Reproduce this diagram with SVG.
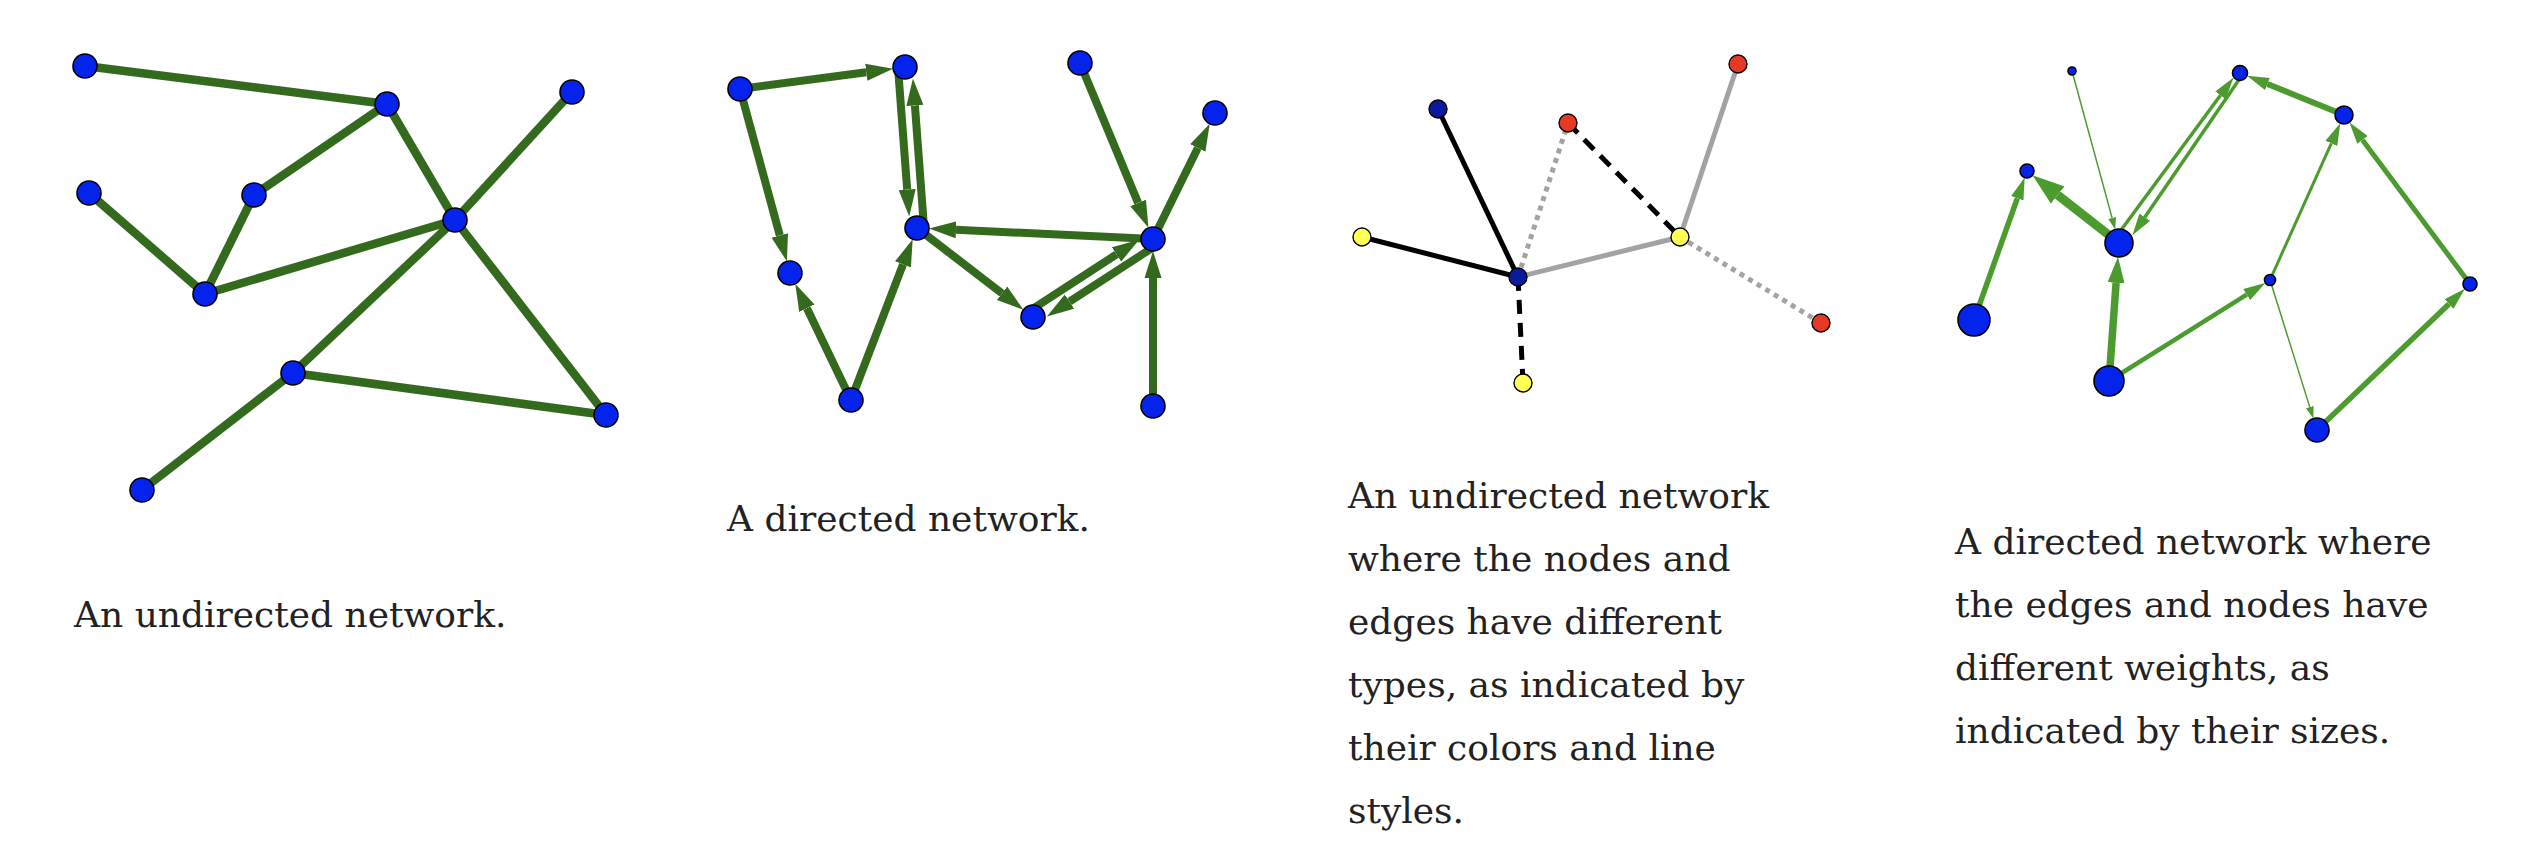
<svg xmlns="http://www.w3.org/2000/svg" width="2522" height="846" viewBox="0 0 2522 846">
<style>
.n{fill:#0424ee;stroke:#000;stroke-width:1.6}
.e1{stroke:#346a1e;stroke-width:8.5;fill:none}
.e2{stroke:#346a1e;stroke-width:8;fill:none;marker-end:url(#m2)}
.k{stroke:#000;stroke-width:5;fill:none}
.kd{stroke:#000;stroke-width:5;fill:none;stroke-dasharray:14 9}
.g{stroke:#a3a3a3;stroke-width:5;fill:none}
.gd{stroke:#a3a3a3;stroke-width:5;fill:none;stroke-dasharray:5 5}
.nb{fill:#0a1a9c;stroke:#000;stroke-width:1.4}
.nr{fill:#e63a24;stroke:#000;stroke-width:1.4}
.ny{fill:#ffff55;stroke:#000;stroke-width:1.4}
.e4{stroke:#4b9b2e;fill:none}
.cap{font-family:"DejaVu Serif","Liberation Serif",serif;font-size:36px;fill:#222}
</style>
<defs>
<marker id="m2" markerUnits="userSpaceOnUse" markerWidth="27" markerHeight="18" refX="0" refY="9" orient="auto" viewBox="0 0 27 18"><path d="M0,0.5 L27,9 L0,17.5 Z" fill="#346a1e"/></marker>
<marker id="m4s" markerUnits="userSpaceOnUse" markerWidth="12" markerHeight="8" refX="0" refY="4" orient="auto" viewBox="0 0 12 8"><path d="M0,0 L12,4 L0,8 Z" fill="#4b9b2e"/></marker>
<marker id="m4m" markerUnits="userSpaceOnUse" markerWidth="22" markerHeight="13" refX="0" refY="6.5" orient="auto" viewBox="0 0 22 13"><path d="M0,0 L22,6.5 L0,13 Z" fill="#4b9b2e"/></marker>
<marker id="m4l" markerUnits="userSpaceOnUse" markerWidth="26" markerHeight="17" refX="0" refY="8.5" orient="auto" viewBox="0 0 26 17"><path d="M0,0 L26,8.5 L0,17 Z" fill="#4b9b2e"/></marker>
<marker id="m4x" markerUnits="userSpaceOnUse" markerWidth="32" markerHeight="22" refX="0" refY="11" orient="auto" viewBox="0 0 32 22"><path d="M0,0 L32,11 L0,22 Z" fill="#4b9b2e"/></marker>
</defs>
<rect width="2522" height="846" fill="#fff"/>

<!-- Panel 1: undirected -->
<g id="p1-edges">
<line class="e1" x1="85" y1="66" x2="387" y2="104"/>
<line class="e1" x1="387" y1="104" x2="254" y2="195"/>
<line class="e1" x1="387" y1="104" x2="455" y2="220"/>
<line class="e1" x1="572" y1="92" x2="455" y2="220"/>
<line class="e1" x1="89" y1="193" x2="205" y2="294"/>
<line class="e1" x1="254" y1="195" x2="205" y2="294"/>
<line class="e1" x1="205" y1="294" x2="455" y2="220"/>
<line class="e1" x1="455" y1="220" x2="293" y2="373"/>
<line class="e1" x1="455" y1="220" x2="606" y2="415"/>
<line class="e1" x1="293" y1="373" x2="606" y2="415"/>
<line class="e1" x1="293" y1="373" x2="142" y2="490"/>
</g>
<g id="p1-n1"><circle class="n" cx="85" cy="66" r="12"/></g>
<g id="p1-n2"><circle class="n" cx="387" cy="104" r="12"/></g>
<g id="p1-n3"><circle class="n" cx="572" cy="92" r="12"/></g>
<g id="p1-n4"><circle class="n" cx="89" cy="193" r="12"/></g>
<g id="p1-n5"><circle class="n" cx="254" cy="195" r="12"/></g>
<g id="p1-n6"><circle class="n" cx="455" cy="220" r="12"/></g>
<g id="p1-n7"><circle class="n" cx="205" cy="294" r="12"/></g>
<g id="p1-n8"><circle class="n" cx="293" cy="373" r="12"/></g>
<g id="p1-n9"><circle class="n" cx="606" cy="415" r="12"/></g>
<g id="p1-n10"><circle class="n" cx="142" cy="490" r="12"/></g>

<!-- Panel 2: directed -->
<g id="p2-edges">
<line class="e2" x1="740" y1="89" x2="866.3" y2="72.2"/>
<line class="e2" x1="740" y1="89" x2="779.8" y2="235.4"/>
<line class="e2" x1="898" y1="67.5" x2="907.2" y2="189.6"/>
<line class="e2" x1="924" y1="227.5" x2="914.9" y2="105.4"/>
<line class="e2" x1="851" y1="400" x2="806.9" y2="308.2"/>
<line class="e2" x1="851" y1="400" x2="903" y2="264.4"/>
<line class="e2" x1="1153" y1="239" x2="956" y2="229.8"/>
<line class="e2" x1="917" y1="228" x2="1002" y2="293.3"/>
<line class="e2" x1="1029.2" y1="311.1" x2="1116.5" y2="254.4"/>
<line class="e2" x1="1156.8" y1="244.9" x2="1069.5" y2="301.7"/>
<line class="e2" x1="1080" y1="63" x2="1138.1" y2="202.9"/>
<line class="e2" x1="1153" y1="239" x2="1197.8" y2="148"/>
<line class="e2" x1="1153" y1="406" x2="1153" y2="278"/>
</g>
<g id="p2-n1"><circle class="n" cx="740" cy="89" r="12"/></g>
<g id="p2-n2"><circle class="n" cx="905" cy="67" r="12"/></g>
<g id="p2-n3"><circle class="n" cx="1080" cy="63" r="12"/></g>
<g id="p2-n4"><circle class="n" cx="1215" cy="113" r="12"/></g>
<g id="p2-n5"><circle class="n" cx="917" cy="228" r="12"/></g>
<g id="p2-n6"><circle class="n" cx="790" cy="273" r="12"/></g>
<g id="p2-n7"><circle class="n" cx="1153" cy="239" r="12"/></g>
<g id="p2-n8"><circle class="n" cx="1033" cy="317" r="12"/></g>
<g id="p2-n9"><circle class="n" cx="851" cy="400" r="12"/></g>
<g id="p2-n10"><circle class="n" cx="1153" cy="406" r="12"/></g>

<!-- Panel 3: typed -->
<g id="p3-edges">
<line class="k" x1="1438" y1="109" x2="1518" y2="277"/>
<line class="k" x1="1362" y1="237" x2="1518" y2="277"/>
<line class="kd" x1="1518" y1="277" x2="1523" y2="383"/>
<line class="kd" x1="1568" y1="123" x2="1680" y2="237"/>
<line class="gd" x1="1518" y1="277" x2="1568" y2="123"/>
<line class="g" x1="1518" y1="277" x2="1680" y2="237"/>
<line class="g" x1="1680" y1="237" x2="1738" y2="64"/>
<line class="gd" x1="1680" y1="237" x2="1821" y2="323"/>
</g>
<g id="p3-n1"><circle class="nb" cx="1438" cy="109" r="9"/></g>
<g id="p3-n2"><circle class="nr" cx="1568" cy="123" r="9"/></g>
<g id="p3-n3"><circle class="nr" cx="1738" cy="64" r="9"/></g>
<g id="p3-n4"><circle class="ny" cx="1362" cy="237" r="9"/></g>
<g id="p3-n5"><circle class="nb" cx="1518" cy="277" r="9"/></g>
<g id="p3-n6"><circle class="ny" cx="1680" cy="237" r="9"/></g>
<g id="p3-n7"><circle class="nr" cx="1821" cy="323" r="9"/></g>
<g id="p3-n8"><circle class="ny" cx="1523" cy="383" r="9"/></g>

<!-- Panel 4: weighted -->
<g id="p4-edges">
<line class="e4" stroke-width="1.5" marker-end="url(#m4s)" x1="2072" y1="71" x2="2112.1" y2="217.9"/>
<line class="e4" stroke-width="1.5" marker-end="url(#m4s)" x1="2270" y1="280" x2="2309.8" y2="407.1"/>
<line class="e4" stroke-width="3.5" marker-end="url(#m4m)" x1="2114.1" y1="239.5" x2="2220.5" y2="95.3"/>
<line class="e4" stroke-width="3.5" marker-end="url(#m4m)" x1="2242.4" y1="74.7" x2="2144.8" y2="217.2"/>
<line class="e4" stroke-width="3" marker-end="url(#m4m)" x1="2270" y1="280" x2="2331.3" y2="143.3"/>
<line class="e4" stroke-width="4.5" marker-end="url(#m4m)" x1="2109" y1="381" x2="2246.7" y2="294.6"/>
<line class="e4" stroke-width="5" marker-end="url(#m4m)" x1="2470" y1="284" x2="2362.5" y2="139.9"/>
<line class="e4" stroke-width="5.5" marker-end="url(#m4m)" x1="1974" y1="320" x2="2017.3" y2="198.3"/>
<line class="e4" stroke-width="5.5" marker-end="url(#m4m)" x1="2317" y1="430" x2="2449" y2="304"/>
<line class="e4" stroke-width="6" marker-end="url(#m4m)" x1="2344" y1="115" x2="2267.4" y2="84"/>
<line class="e4" stroke-width="7.5" marker-end="url(#m4l)" x1="2109" y1="381" x2="2116.1" y2="282.9"/>
<line class="e4" stroke-width="9" marker-end="url(#m4x)" x1="2119" y1="243" x2="2057.7" y2="195"/>
</g>
<g id="p4-n1"><circle class="n" cx="2072" cy="71" r="4"/></g>
<g id="p4-n2"><circle class="n" cx="2240" cy="73" r="7.5"/></g>
<g id="p4-n3"><circle class="n" cx="2344" cy="115" r="9"/></g>
<g id="p4-n4"><circle class="n" cx="2027" cy="171" r="7"/></g>
<g id="p4-n5"><circle class="n" cx="2119" cy="243" r="14"/></g>
<g id="p4-n6"><circle class="n" cx="2270" cy="280" r="5.5"/></g>
<g id="p4-n7"><circle class="n" cx="2470" cy="284" r="7"/></g>
<g id="p4-n8"><circle class="n" cx="1974" cy="320" r="16"/></g>
<g id="p4-n9"><circle class="n" cx="2109" cy="381" r="15"/></g>
<g id="p4-n10"><circle class="n" cx="2317" cy="430" r="12"/></g>

<!-- Captions -->
<g id="captions">
<text class="cap" x="74" y="627">An undirected network.</text>
<text class="cap" x="727" y="531">A directed network.</text>
<text class="cap" x="1348" y="508">An undirected network</text>
<text class="cap" x="1348" y="571">where the nodes and</text>
<text class="cap" x="1348" y="634">edges have different</text>
<text class="cap" x="1348" y="697">types, as indicated by</text>
<text class="cap" x="1348" y="760">their colors and line</text>
<text class="cap" x="1348" y="823">styles.</text>
<text class="cap" x="1955" y="554">A directed network where</text>
<text class="cap" x="1955" y="617">the edges and nodes have</text>
<text class="cap" x="1955" y="680">different weights, as</text>
<text class="cap" x="1955" y="743">indicated by their sizes.</text>
</g>
</svg>
